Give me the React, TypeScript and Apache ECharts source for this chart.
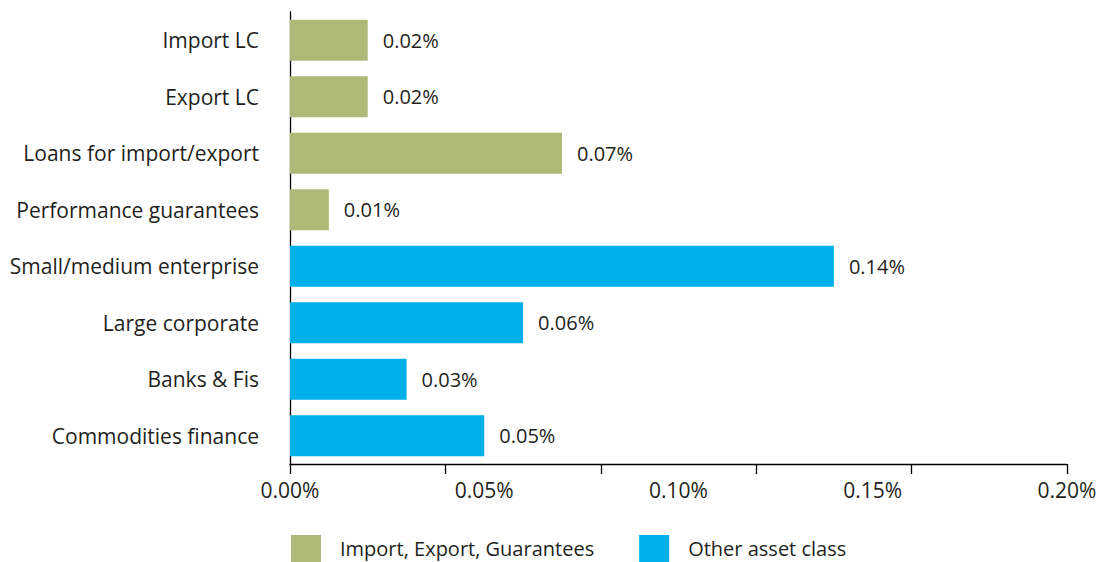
import React, { useEffect, useRef } from "react";
import * as echarts from "echarts";

const categories = [
  "Import LC",
  "Export LC",
  "Loans for import/export",
  "Performance guarantees",
  "Small/medium enterprise",
  "Large corporate",
  "Banks & Fis",
  "Commodities finance",
];
const tradeValues: (number | string)[] = [0.02, 0.02, 0.07, 0.01, "-", "-", "-", "-"];
const otherValues: (number | string)[] = ["-", "-", "-", "-", 0.14, 0.06, 0.03, 0.05];
const seriesNames = ["Import, Export, Guarantees", "Other asset class"];
const axisMin = 0;
const axisMax = 0.2;
const labelStep = 0.05;
const tickStep = 0.04;

const FONT = "'Open Sans', sans-serif";
const TEXT = "#231f20";
const GREEN = "#aeb978";
const BLUE = "#00b0e8";

const fmt = (v: number) => v.toFixed(2) + "%";

export default function App() {
  const ref = useRef<HTMLDivElement>(null);
  useEffect(() => {
    if (!ref.current) return;
    const chart = echarts.init(ref.current, null, { renderer: "svg" });
    const valueLabel = {
      show: true,
      position: "right",
      distance: 15,
      formatter: (p: any) => fmt(p.value),
      fontFamily: FONT,
      fontSize: 20,
      color: TEXT,
    };
    chart.setOption({
      animation: false,
      textStyle: { fontFamily: FONT, color: TEXT },
      grid: {
        left: 290,
        right: 30,
        top: 12,
        bottom: 98,
        containLabel: false,
        outerBoundsMode: "none",
      },
      legend: {
        data: seriesNames,
        left: 291,
        top: 535,
        icon: "rect",
        itemWidth: 30,
        itemHeight: 27,
        itemGap: 45,
        padding: 0,
        selectedMode: false,
        textStyle: { fontFamily: FONT, fontSize: 20, color: TEXT, padding: [0, 0, 0, 14] },
      },
      xAxis: [
        {
          type: "value",
          min: axisMin,
          max: axisMax,
          interval: labelStep,
          position: "bottom",
          axisLine: { show: true, lineStyle: { color: "#000", width: 1.3 } },
          axisTick: { show: false },
          splitLine: { show: false },
          axisLabel: {
            formatter: (v: number) => fmt(v),
            fontFamily: FONT,
            fontSize: 21,
            color: TEXT,
            margin: 15,
          },
        },
        {
          type: "value",
          min: axisMin,
          max: axisMax,
          interval: tickStep,
          position: "bottom",
          axisLine: { show: false },
          axisTick: { show: true, length: 10, lineStyle: { color: "#000", width: 1.3 } },
          splitLine: { show: false },
          axisLabel: { show: false },
        },
      ],
      yAxis: {
        type: "category",
        data: categories,
        inverse: true,
        axisLine: { show: true, lineStyle: { color: "#000", width: 1.3 } },
        axisTick: { show: false },
        axisLabel: { fontFamily: FONT, fontSize: 21, color: TEXT, margin: 31 },
      },
      series: [
        {
          name: seriesNames[0],
          type: "bar",
          stack: "all",
          data: tradeValues,
          barCategoryGap: "27%",
          itemStyle: { color: GREEN },
          label: valueLabel,
        },
        {
          name: seriesNames[1],
          type: "bar",
          stack: "all",
          data: otherValues,
          barCategoryGap: "27%",
          itemStyle: { color: BLUE },
          label: valueLabel,
        },
      ],
    });
    return () => chart.dispose();
  }, []);
  return (
    <div
      ref={ref}
      style={{ width: 1097, height: 562, position: "absolute", left: 0, top: 0 }}
    />
  );
}
